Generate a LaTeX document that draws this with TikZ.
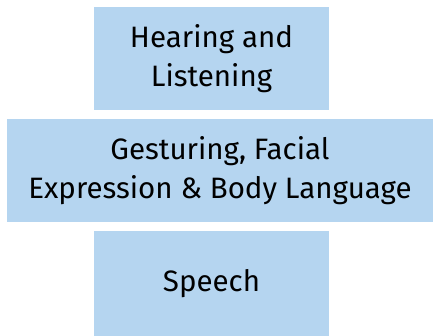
\documentclass[tikz,border=0pt]{standalone}
\usepackage{fontspec}
\setmainfont{Fira Sans}
\usetikzlibrary{positioning}

\definecolor{boxblue}{RGB}{181,213,240}

\begin{document}
\begin{tikzpicture}[x=1pt,y=1pt,
  every node/.style={inner sep=0pt,outer sep=0pt},
  block/.style={fill=boxblue,align=center,font=\fontsize{29.5}{39}\selectfont,minimum height=103pt}]
  \useasboundingbox (0,0) rectangle (433,335);
  \node[block,minimum width=235pt]           (hearing) at (211.5,276.5) {Hearing and\\Listening};
  \node[block,minimum width=426pt]           (gesture) [below=9pt of hearing,xshift=8.5pt] {Gesturing, Facial\\Expression \& Body Language};
  \node[block,minimum width=235pt,minimum height=105pt] (speech)  [below=9pt of gesture,xshift=-8.5pt] {Speech};
\end{tikzpicture}
\end{document}
